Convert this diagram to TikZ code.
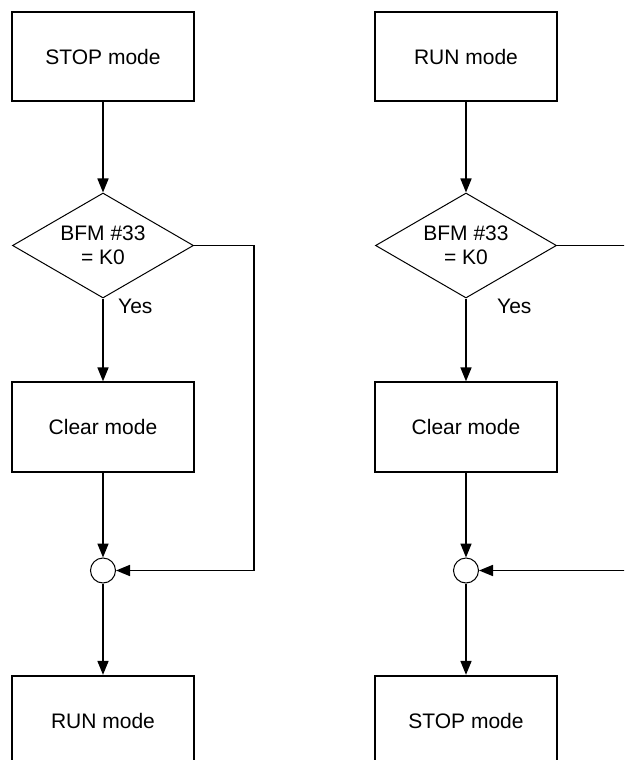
\documentclass[tikz,border=0pt]{standalone}
\usepackage{fontspec}
\setmainfont{Liberation Sans}
\usetikzlibrary{shapes.geometric,arrows.meta}
\begin{document}
\begin{tikzpicture}[x=1pt,y=-1pt,
  every node/.style={font=\fontsize{21}{24}\selectfont},
  modebox/.style={draw,line width=1.8pt,minimum width=182pt,minimum height=89.5pt,inner sep=0pt},
  decision/.style={draw,line width=1pt,shape=diamond,aspect=1.72,inner sep=0pt,minimum width=181pt,minimum height=105pt,align=center},
  joint/.style={draw,line width=1pt,circle,minimum size=25pt,inner sep=0pt},
  flow/.style={line width=1.7pt,-{Triangle[length=14pt,width=11pt]}},
  plain/.style={line width=1.7pt},
  lbl/.style={anchor=west,inner sep=0pt}]
\useasboundingbox (0,0) rectangle (624,760);
\clip (0,0) rectangle (624,760);
% left column
\node[modebox] (l1) at (103,56.5) {STOP mode};
\node[decision] (ld) at (103,245.5) {BFM \#33\\= K0};
\node[modebox] (l2) at (103,427) {Clear mode};
\node[joint] (lc) at (103,570.5) {};
\node[modebox] (l3) at (103,720.5) {RUN mode};
\node[lbl] (ly) at (118,306) {Yes};
\coordinate (lr1) at (254,245.5);
\coordinate (lr2) at (254,570.5);
\draw[flow] (l1) -- (ld);
\draw[flow] (ld) -- (l2);
\draw[flow] (l2) -- (lc);
\draw[flow] (lc) -- (l3);
\draw[plain] (ld.east) -- (lr1) -- (lr2);
\draw[flow] (lr2) -- (lc.east);
% right column
\node[modebox] (r1) at (466,56.5) {RUN mode};
\node[decision] (rd) at (466,245.5) {BFM \#33\\= K0};
\node[modebox] (r2) at (466,427) {Clear mode};
\node[joint] (rc) at (466,570.5) {};
\node[modebox] (r3) at (466,720.5) {STOP mode};
\node[lbl] (ry) at (497,306) {Yes};
\coordinate (rr1) at (640,245.5);
\coordinate (rr2) at (640,570.5);
\draw[flow] (r1) -- (rd);
\draw[flow] (rd) -- (r2);
\draw[flow] (r2) -- (rc);
\draw[flow] (rc) -- (r3);
\draw[plain] (rd.east) -- (rr1);
\draw[flow] (rr2) -- (rc.east);
\end{tikzpicture}
\end{document}
